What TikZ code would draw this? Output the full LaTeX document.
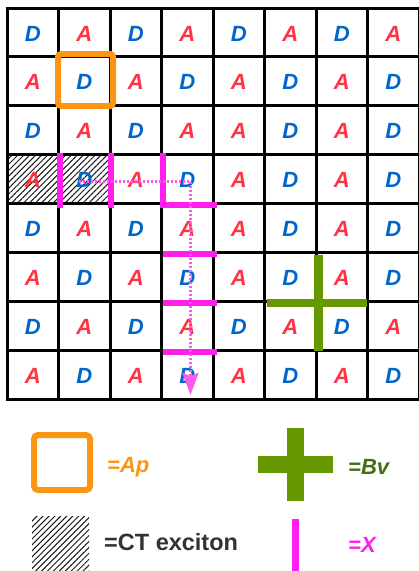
\documentclass[tikz,border=0pt]{standalone}
\usepackage{fontspec}
\setmainfont{Liberation Sans}
\usetikzlibrary{patterns.meta,arrows.meta}
\definecolor{colD}{RGB}{0,102,204}
\definecolor{colA}{RGB}{255,51,68}
\definecolor{orng}{RGB}{250,150,20}
\definecolor{mag}{RGB}{255,30,235}
\definecolor{magdot}{RGB}{255,90,240}
\definecolor{olivegr}{RGB}{102,153,0}
\definecolor{dolive}{RGB}{68,110,20}
\definecolor{dgray}{RGB}{50,50,50}
\begin{document}
\begin{tikzpicture}[x=1pt,y=-1pt,
  letter/.style={font=\fontsize{22}{22}\selectfont\bfseries\itshape, inner sep=0pt},
  gridline/.style={line width=3pt, black, line cap=rect},
  xbar/.style={line width=6pt, mag},
  dotpath/.style={line width=3pt, magdot, dash pattern=on 2pt off 2pt,
    -{Stealth[length=22pt,width=16pt,inset=3pt]}},
  hatch/.style={pattern={Lines[angle=45,distance=4.2pt,line width=1pt]}, pattern color=black!90},
  legtext/.style={font=\fontsize{22}{22}\selectfont\bfseries\itshape, inner sep=0pt},
  apbox/.style={draw=orng, line width=6pt, rounded corners=3pt}
]
\useasboundingbox (0,0) rectangle (419,571);
\fill[white] (0,0) rectangle (419,571);
% hatched CT exciton cells
\fill[hatch] (7,155.7) rectangle (110.5,204.6);
% grid
\foreach \i in {0,...,8} {
  \draw[gridline] ({7+\i*51.5},8) -- ({7+\i*51.5},399);
  \draw[gridline] (7,{8+\i*48.875}) -- (419,{8+\i*48.875});
}
% letters
\foreach \r/\row in {0/{D,A,D,A,D,A,D,A},1/{A,D,A,D,A,D,A,D},2/{D,A,D,A,A,D,A,D},3/{A,D,A,D,A,D,A,D},
  4/{D,A,D,A,A,D,A,D},5/{A,D,A,D,A,D,A,D},6/{D,A,D,A,D,A,D,A},7/{A,D,A,D,A,D,A,D}} {
  \foreach \l [count=\c from 0] in \row {
    \node[letter, text=col\l] (cell-\r-\c) at ({7+(\c+0.5)*51.5},{8+(\r+0.5)*48.875+1}) {\l};
  }
}
% A_p box
\draw[apbox] (58,54) rectangle (113,106);
% B_v cross
\draw[olivegr, line width=9pt] (318,255) -- (318,351);
\draw[olivegr, line width=8pt] (267,303) -- (367,303);
% X bars
\draw[xbar] (59.5,153) -- (59.5,208);
\draw[xbar] (111,153) -- (111,208);
\draw[xbar] (163,153) -- (163,205) -- (217,205);
\draw[xbar] (163,253.5) -- (217,253.5);
\draw[xbar] (163,302.5) -- (217,302.5);
\draw[xbar] (163,351.5) -- (217,351.5);
% dotted path
\coordinate (dstart) at (79,181);
\coordinate (dturn) at (190.5,181);
\coordinate (dend) at (190.5,395);
\draw[dotpath] (dstart) -- (dturn) -- (dend);
% legend
\draw[apbox, rounded corners=4pt] (34,435) rectangle (90,490);
\node[legtext, text=orng, anchor=west] (lap) at (107,467) {=Ap};
\fill[olivegr] (287,428) rectangle (304,501);
\fill[olivegr] (258,456) rectangle (333,473);
\node[legtext, text=dolive, anchor=west] (lbv) at (348,467) {=Bv};
\fill[hatch] (32,516) rectangle (89,571);
\node[font=\fontsize{23.5}{23.5}\selectfont\bfseries, text=dgray, inner sep=0pt, anchor=west] (lct) at (104,542) {=CT exciton};
\fill[mag] (292,519) rectangle (299,571);
\node[legtext, text=mag, anchor=west] (lx) at (348,545) {=X};
\end{tikzpicture}
\end{document}
